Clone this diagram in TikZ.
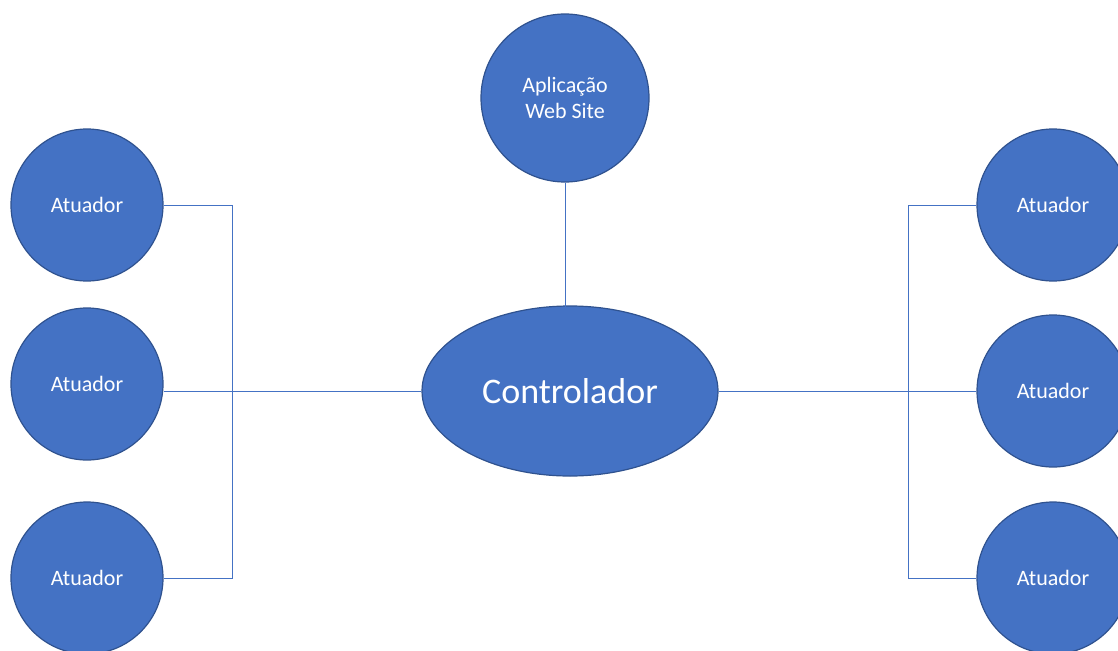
\documentclass[tikz,border=0pt]{standalone}
\usepackage{fontspec}
\setmainfont{Carlito}
\usetikzlibrary{shapes.geometric}
\definecolor{fillblue}{HTML}{4472C4}
\definecolor{edgeblue}{HTML}{2F528F}
\definecolor{lineblue}{HTML}{4472C4}
\begin{document}
\begin{tikzpicture}[x=1pt,y=-1pt,
  actor/.style={circle,draw=edgeblue,fill=fillblue,line width=1.2pt,minimum size=152pt,inner sep=0pt,text=white,font=\fontsize{22}{26}\selectfont},
  app/.style={circle,draw=edgeblue,fill=fillblue,line width=1.2pt,minimum size=168pt,inner sep=0pt,text=white,align=center,font=\fontsize{22}{26}\selectfont},
  ctrl/.style={ellipse,draw=edgeblue,fill=fillblue,line width=1.2pt,minimum width=296pt,minimum height=170pt,inner sep=0pt,text=white,font=\fontsize{36}{40}\selectfont},
  wire/.style={draw=lineblue,line width=1pt}]
\useasboundingbox (0,0) rectangle (1118,650);
\begin{scope}
\clip (0,0) rectangle (1118,650);
\node[app] (app) at (565,98) {Aplicação\\Web Site};
\node[ctrl] (ctrl) at (570,391) {Controlador};
\node[actor] (l1) at (87,205) {Atuador};
\node[actor] (l2) at (87,384) {Atuador};
\node[actor] (l3) at (87,578) {Atuador};
\node[actor] (r1) at (1053,205) {Atuador};
\node[actor] (r2) at (1053,391) {Atuador};
\node[actor] (r3) at (1053,578) {Atuador};
\coordinate (lt) at (232,205);
\coordinate (lb) at (232,578);
\coordinate (rt) at (908,205);
\coordinate (rb) at (908,578);
\coordinate (ctop) at (565,307);
\draw[wire] (l1.east) -- (lt) -- (lb) -- (l3.east);
\draw[wire] (l2.east |- ctrl.west) -- (ctrl.west);
\draw[wire] (r1.west) -- (rt) -- (rb) -- (r3.west);
\draw[wire] (ctrl.east) -- (r2.west);
\draw[wire] (app.south) -- (ctop);
\end{scope}
\end{tikzpicture}
\end{document}
